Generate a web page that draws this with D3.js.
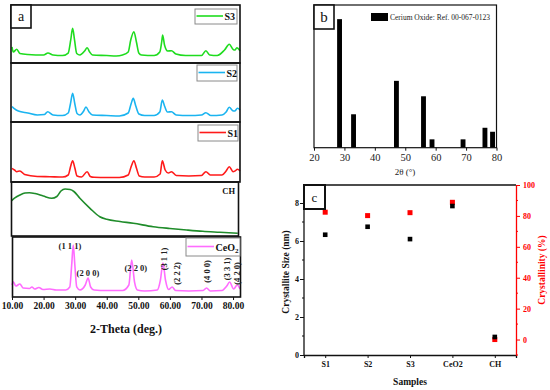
<!DOCTYPE html>
<html>
<head>
<meta charset="utf-8">
<script src="https://cdn.jsdelivr.net/npm/d3@7"></script>
<style>
  html, body { margin: 0; padding: 0; background: #fff; }
  svg { display: block; font-family: "Liberation Serif", "DejaVu Serif", serif; }
</style>
</head>
<body>
<svg id="chart" width="550" height="390"></svg>
<script>
/**
 * Data.
 */
// XRD patterns, [2-theta (deg), relative intensity (% of panel height)].
const xrdS3 = [
  [10.0, 27.6], [10.4, 19.0], [11.5, 23.6], [12.5, 16.4], [15, 14.7], [20, 13.8],
  [21.4, 17.2], [23, 13.8], [26, 12.9], [27.8, 17.2], [28.6, 39.7], [29.2, 59.8],
  [29.8, 39.7], [30.5, 16.4], [31.5, 13.8], [33.0, 20.7], [33.8, 26.4], [34.6, 19.0],
  [35.5, 13.8], [40, 12.9], [43, 12.1], [45, 13.8], [46.8, 19.0], [47.6, 39.7],
  [48.6, 54.0], [49.4, 36.2], [50.2, 16.7], [51, 13.8], [55, 12.9], [56.8, 19.0],
  [57.4, 36.2], [57.7, 48.3], [58.3, 31.0], [59.3, 20.7], [60.5, 21.2], [61.9, 15.5],
  [65, 12.9], [70, 12.9], [71.4, 21.2], [72.6, 13.8], [75, 12.9], [77.3, 22.4],
  [78.8, 32.2], [80.0, 23.6], [80.6, 22.4], [81.2, 26.4], [82.2, 21.2]
];
const xrdS2 = [
  [10.0, 25.9], [10.5, 23.7], [12, 18.6], [15, 15.3], [18, 11.9], [20.3, 12.7],
  [21.3, 17.5], [23, 11.9], [26, 11.0], [27.8, 15.3], [28.5, 30.5], [29.2, 48.6],
  [29.9, 30.5], [30.6, 14.4], [31.5, 11.9], [32.7, 18.6], [33.4, 25.4], [34.4, 16.9],
  [35.5, 11.9], [40, 11.0], [44, 10.2], [46.8, 15.3], [47.7, 30.5], [48.4, 40.2],
  [49.2, 27.1], [50.2, 13.6], [52, 11.0], [55, 11.0], [56.8, 16.9], [57.6, 37.3],
  [58.3, 27.1], [59.2, 16.9], [60.5, 17.5], [62, 11.9], [66, 11.0], [70, 11.9],
  [71.4, 15.8], [73, 11.0], [76.5, 11.9], [77.8, 16.9], [78.8, 24.9], [79.9, 19.2],
  [80.5, 18.6], [81.4, 23.2], [82.2, 20.3]
];
const xrdS1 = [
  [10.0, 22.8], [10.8, 20.0], [11.5, 17.2], [12.5, 18.3], [14, 12.5], [18, 9.2],
  [22, 8.8], [26, 8.3], [27.8, 11.7], [28.6, 26.7], [29.2, 35.5], [29.9, 23.3],
  [30.6, 10.0], [32, 8.3], [33.8, 17.2], [34.8, 9.2], [36, 7.8], [40, 7.5],
  [44, 7.5], [46.8, 11.7], [47.8, 26.7], [48.6, 35.5], [49.4, 23.3], [50.3, 10.0],
  [52, 8.3], [55, 8.3], [56.9, 13.3], [57.6, 35.5], [58.5, 20.0], [59.5, 15.0],
  [60.5, 17.2], [62, 10.8], [66, 10.0], [70, 10.8], [71.4, 17.2], [72.8, 11.7],
  [76.5, 11.7], [77.8, 18.3], [78.8, 25.5], [80.0, 17.2], [80.6, 18.3], [81.4, 21.2],
  [82.2, 18.3]
];
const xrdCH = [
  [9.9, 65.4], [10.9, 70.4], [12.5, 75.9], [14.1, 79.6], [15.5, 80.2], [17.3, 78.7],
  [19.9, 74.1], [22.6, 69.8], [24.2, 73.1], [25.5, 83.3], [26.8, 87.0], [28.4, 86.1],
  [29.6, 82.4], [31.5, 69.8], [34.7, 51.3], [37.8, 35.7], [40.0, 30.9], [44.2, 26.9],
  [48.4, 23.5], [54.7, 17.2], [60.0, 13.9], [65.3, 11.1], [70.4, 8.7], [75.8, 6.9],
  [81.5, 5.0]
];
const xrdCeO2 = [
  [10.0, 20.0], [10.4, 25.5], [11.2, 18.3], [12.5, 21.7], [13.5, 15.0], [15.5, 14.2],
  [16.3, 16.7], [17.2, 13.3], [18.5, 15.8], [19.8, 12.5], [22.0, 13.3], [24, 11.7],
  [27, 11.7], [28.3, 16.7], [28.9, 53.3], [29.4, 86.7], [29.9, 53.3], [30.5, 16.7],
  [31.5, 11.7], [33.2, 20.0], [34.1, 31.7], [34.9, 16.7], [36, 11.7], [40, 10.8],
  [45, 10.8], [47.0, 20.0], [47.9, 61.7], [48.8, 25.0], [49.7, 11.7], [52, 10.0],
  [56, 11.7], [57.0, 28.3], [57.8, 56.7], [58.6, 28.3], [59.6, 12.5], [60.7, 16.7],
  [61.8, 10.8], [66, 10.0], [70.5, 10.8], [71.6, 15.0], [72.8, 10.0], [76.5, 10.8],
  [78.0, 18.3], [78.9, 25.0], [80.2, 13.3], [81.3, 20.0], [82.2, 13.3]
];

// Miller indices of the CeO2 reflections, with the angle / intensity where each is written.
const hklLabels = ["(1 1 1)", "(2 0 0)", "(2 2 0)", "(3 1 1)", "(2 2 2)", "(4 0 0)", "(3 3 1)", "(4 2 0)"];
const hklAngles = [28.35, 34.05, 49.2, 58.1, 62.2, 71.7, 78.0, 81.2];
const hklIntensity = [85, 40, 48.3, 63.3, 39.2, 42.5, 46.7, 39.2];
const hklVertical = [false, false, false, true, true, true, true, true];

// Reference pattern (panel b).
const refAngles = [28.4, 33.0, 47.1, 56.0, 58.8, 69.0, 76.2, 78.7];
const refIntensity = [100, 26, 52, 40, 6.5, 6.5, 15.5, 12.4];

// Crystallite size and crystallinity (panel c).
const sampleNames = ["S1", "S2", "S3", "CeO2", "CH"];
const crystalliteSize = [6.33, 6.75, 6.1, 7.84, 0.95];
const crystallinity = [82.4, 80.2, 82.1, 88.8, 0];

// Tick values.
const xrdTicks = [10, 20, 30, 40, 50, 60, 70, 80];
const refTicks = [20, 30, 40, 50, 60, 70, 80];
const sizeTicks = [0, 2, 4, 6, 8];
const sizeMinorTicks = [1, 3, 5, 7];
const crystTicks = [0, 20, 40, 60, 80, 100];
const crystMinorTicks = [-10, 10, 30, 50, 70, 90];

const svg = d3.select("#chart");

/**
 * Panel a: stacked XRD patterns.
 */
const xA = d3.scaleLinear().domain([10, 82.2]).range([12, 240]);

const aPanels = [
  { data: xrdS3, color: "#1edc1e", top: 5, bottom: 63, x0: 11, x1: 240, legend: "S3", lg: [195, 9, 42, 15] },
  { data: xrdS2, color: "#1ab4f0", top: 63, bottom: 122, x0: 11, x1: 240, legend: "S2", lg: [197, 65, 40, 16] },
  { data: xrdS1, color: "#ff1a1a", top: 122, bottom: 182, x0: 11, x1: 240, legend: "S1", lg: [198, 125, 40, 16] },
  { data: xrdCH, color: "#1f8c2a", top: 182, bottom: 236, x0: 11.5, x1: 238.5, legend: null },
  { data: xrdCeO2, color: "#ff6cff", top: 237, bottom: 297, x0: 12.5, x1: 240.5, legend: "CeO2", lg: [186, 238, 54, 18] }
];

aPanels.forEach((p, i) => {
  const y = d3.scaleLinear().domain([0, 100]).range([p.bottom, p.top]);
  const line = d3.line()
    .x((d) => xA(d[0]))
    .y((d) => y(d[1]))
    .curve(d3.curveMonotoneX);

  // Curve.
  svg.append("path")
    .datum(p.data)
    .attr("fill", "none")
    .attr("stroke", p.color)
    .attr("stroke-width", 1.6)
    .attr("stroke-linejoin", "round")
    .attr("d", line);

  // Frame.
  svg.append("rect")
    .attr("x", p.x0)
    .attr("y", p.top)
    .attr("width", p.x1 - p.x0)
    .attr("height", p.bottom - p.top)
    .attr("fill", "none")
    .attr("stroke", "#111")
    .attr("stroke-width", 1.6);

  // Peak indices on the CeO2 pattern and the 2-theta axis.
  if (i === aPanels.length - 1) {
    hklLabels.forEach((lab, k) => {
      const tx = xA(hklAngles[k]);
      const ty = y(hklIntensity[k]);
      svg.append("text")
        .attr("x", 0).attr("y", 0)
        .attr("transform", hklVertical[k] ? `translate(${tx},${ty}) rotate(-90)` : `translate(${tx},${ty})`)
        .attr("text-anchor", "middle")
        .attr("dominant-baseline", "central")
        .attr("font-size", 8.5)
        .attr("font-weight", "bold")
        .attr("fill", "#222")
        .text(lab);
    });

    const ax = svg.append("g")
      .attr("transform", `translate(0,${p.bottom})`)
      .call(d3.axisBottom(xA).tickValues(xrdTicks).tickFormat(d3.format(".2f")).tickSize(3).tickPadding(2));
    ax.select(".domain").remove();
    ax.selectAll("line").attr("stroke", "#111");
    ax.selectAll("text")
      .attr("font-family", "Liberation Serif")
      .attr("font-size", 9.5)
      .attr("font-weight", "bold")
      .attr("fill", "#111");
  }

  // Legend.
  if (p.legend) {
    const [lx, ly, lw, lh] = p.lg;
    svg.append("rect")
      .attr("x", lx).attr("y", ly).attr("width", lw).attr("height", lh)
      .attr("fill", "#fff").attr("stroke", "#8a8a8a").attr("stroke-width", 1);
    svg.append("line")
      .attr("x1", lx + 1.5).attr("x2", lx + 28)
      .attr("y1", ly + lh / 2 - 0.5).attr("y2", ly + lh / 2 - 0.5)
      .attr("stroke", p.color).attr("stroke-width", 1.6);
    const t = svg.append("text")
      .attr("x", lx + 29.5)
      .attr("y", ly + lh / 2 + 3.5)
      .attr("font-size", 10)
      .attr("font-weight", "bold")
      .attr("fill", "#111");
    if (p.legend === "CeO2") {
      t.append("tspan").text("CeO");
      t.append("tspan").attr("font-size", 7).attr("dy", 2.5).text("2");
    } else {
      t.text(p.legend);
    }
  }
});

// CH tag (no box).
svg.append("text")
  .attr("x", 235).attr("y", 194)
  .attr("text-anchor", "end")
  .attr("font-size", 8.5)
  .attr("font-weight", "bold")
  .attr("fill", "#111")
  .text("CH");

// Panel letter a.
svg.append("rect")
  .attr("x", 11).attr("y", 5).attr("width", 20).attr("height", 23)
  .attr("fill", "#fff").attr("stroke", "#111").attr("stroke-width", 1.6);
svg.append("text")
  .attr("x", 21).attr("y", 21)
  .attr("text-anchor", "middle")
  .attr("font-size", 14)
  .attr("fill", "#111")
  .text("a");

// Axis title.
svg.append("text")
  .attr("x", 126).attr("y", 333)
  .attr("text-anchor", "middle")
  .attr("font-size", 12)
  .attr("font-weight", "bold")
  .attr("fill", "#111")
  .text("2-Theta (deg.)");

/**
 * Panel b: reference bars.
 */
const xB = d3.scaleLinear().domain([20, 80]).range([314, 496.5]);
const yB = d3.scaleLinear().domain([0, 111]).range([147.7, 5]);

svg.append("g")
  .selectAll("rect")
  .data(refAngles.map((a, i) => ({ a, v: refIntensity[i] })))
  .enter()
  .append("rect")
  .attr("x", (d) => xB(d.a - 0.8))
  .attr("width", (d) => xB(d.a + 0.8) - xB(d.a - 0.8))
  .attr("y", (d) => yB(d.v))
  .attr("height", (d) => yB(0) - yB(d.v))
  .attr("fill", "#000");

svg.append("rect")
  .attr("x", xB(20)).attr("y", yB(111))
  .attr("width", xB(80) - xB(20)).attr("height", yB(0) - yB(111))
  .attr("fill", "none").attr("stroke", "#111").attr("stroke-width", 1.2);

const bx = svg.append("g")
  .attr("transform", `translate(0,${yB(0)})`)
  .call(d3.axisBottom(xB).tickValues(refTicks).tickFormat(d3.format("d")).tickSize(3).tickPadding(3));
bx.select(".domain").remove();
bx.selectAll("line").attr("stroke", "#111");
bx.selectAll("text")
  .attr("font-family", "Liberation Serif")
  .attr("font-size", 10.5)
  .attr("fill", "#222");

svg.append("text")
  .attr("x", 405).attr("y", 175)
  .attr("text-anchor", "middle")
  .attr("font-size", 9)
  .attr("fill", "#222")
  .text("2θ (°)");

// Legend.
svg.append("rect")
  .attr("x", 371).attr("y", 13).attr("width", 17).attr("height", 8)
  .attr("fill", "#000");
svg.append("text")
  .attr("x", 390).attr("y", 20)
  .attr("font-size", 7.5)
  .attr("fill", "#222")
  .text("Cerium Oxide: Ref. 00-067-0123");

// Panel letter b.
svg.append("rect")
  .attr("x", 314).attr("y", 5).attr("width", 20).attr("height", 24)
  .attr("fill", "#fff").attr("stroke", "#111").attr("stroke-width", 1.6);
svg.append("text")
  .attr("x", 324).attr("y", 22)
  .attr("text-anchor", "middle")
  .attr("font-size", 15)
  .attr("fill", "#111")
  .text("b");

/**
 * Panel c: crystallite size and crystallinity.
 */
const xC = d3.scalePoint().domain(sampleNames).range([304, 516]).padding(0.5);
const yL = d3.scaleLinear().domain([0, 9]).range([355, 184]);
const yR = d3.scaleLinear().domain([-10, 100]).range([355, 185]);

// Frame top.
svg.append("line")
  .attr("x1", 304).attr("x2", 516).attr("y1", 185).attr("y2", 185)
  .attr("stroke", "#111").attr("stroke-width", 1.3);

const cx = svg.append("g")
  .attr("transform", "translate(0,355)")
  .call(d3.axisBottom(xC).tickSize(3).tickPadding(3));
cx.select(".domain").attr("stroke", "#111").attr("stroke-width", 1.3);
cx.selectAll("line").attr("stroke", "#111");
cx.selectAll("text")
  .attr("font-family", "Liberation Serif")
  .attr("font-size", 8)
  .attr("font-weight", "bold")
  .attr("fill", "#111");

// Left axis.
const cl = svg.append("g")
  .attr("transform", "translate(304,0)")
  .call(d3.axisLeft(yL).tickValues(sizeTicks).tickSize(4).tickPadding(1).tickSizeOuter(0));
cl.select(".domain").attr("d", "M0,185V355").attr("stroke", "#111").attr("stroke-width", 1.3);
cl.selectAll("line").attr("stroke", "#111");
cl.selectAll("text")
  .attr("font-family", "Liberation Serif")
  .attr("font-size", 8)
  .attr("font-weight", "bold")
  .attr("fill", "#111");
cl.selectAll(".minor")
  .data(sizeMinorTicks)
  .enter()
  .append("line")
  .attr("x1", -2).attr("x2", 0)
  .attr("y1", (d) => yL(d)).attr("y2", (d) => yL(d))
  .attr("stroke", "#111");

// Right axis (red).
const cr = svg.append("g")
  .attr("transform", "translate(516,0)")
  .call(d3.axisRight(yR).tickValues(crystTicks).tickSize(4).tickPadding(3).tickSizeOuter(0));
cr.select(".domain").attr("stroke", "#f00").attr("stroke-width", 1.3);
cr.selectAll("line").attr("stroke", "#f00");
cr.selectAll("text")
  .attr("font-family", "Liberation Serif")
  .attr("font-size", 8)
  .attr("font-weight", "bold")
  .attr("fill", "#f00");
cr.selectAll(".minor")
  .data(crystMinorTicks)
  .enter()
  .append("line")
  .attr("x1", 0).attr("x2", 2)
  .attr("y1", (d) => yR(d)).attr("y2", (d) => yR(d))
  .attr("stroke", "#f00");

// Points: crystallinity first, crystallite size on top.
svg.append("g")
  .selectAll("rect")
  .data(sampleNames.map((s, i) => ({ s, v: crystallinity[i] })))
  .enter()
  .append("rect")
  .attr("x", (d) => xC(d.s) - 2.5)
  .attr("y", (d) => yR(d.v) - 2.5)
  .attr("width", 5).attr("height", 5)
  .attr("fill", "#f00");

svg.append("g")
  .selectAll("rect")
  .data(sampleNames.map((s, i) => ({ s, v: crystalliteSize[i] })))
  .enter()
  .append("rect")
  .attr("x", (d) => xC(d.s) - 2.3)
  .attr("y", (d) => yL(d.v) - 2.3)
  .attr("width", 4.6).attr("height", 4.6)
  .attr("fill", "#000");

// Axis titles.
svg.append("text")
  .attr("transform", "translate(289,272) rotate(-90)")
  .attr("text-anchor", "middle")
  .attr("font-size", 9.5)
  .attr("font-weight", "bold")
  .attr("fill", "#111")
  .text("Crystallite Size (nm)");
svg.append("text")
  .attr("transform", "translate(545,270) rotate(-90)")
  .attr("text-anchor", "middle")
  .attr("font-size", 9.5)
  .attr("font-weight", "bold")
  .attr("fill", "#f00")
  .text("Crystallinity (%)");
svg.append("text")
  .attr("x", 410).attr("y", 385)
  .attr("text-anchor", "middle")
  .attr("font-size", 9.5)
  .attr("font-weight", "bold")
  .attr("fill", "#111")
  .text("Samples");

// Panel letter c.
svg.append("rect")
  .attr("x", 304).attr("y", 185).attr("width", 21).attr("height", 24)
  .attr("fill", "#fff").attr("stroke", "#111").attr("stroke-width", 2);
svg.append("text")
  .attr("x", 314.5).attr("y", 201.5)
  .attr("text-anchor", "middle")
  .attr("font-size", 13)
  .attr("fill", "#111")
  .text("c");
</script>
</body>
</html>
